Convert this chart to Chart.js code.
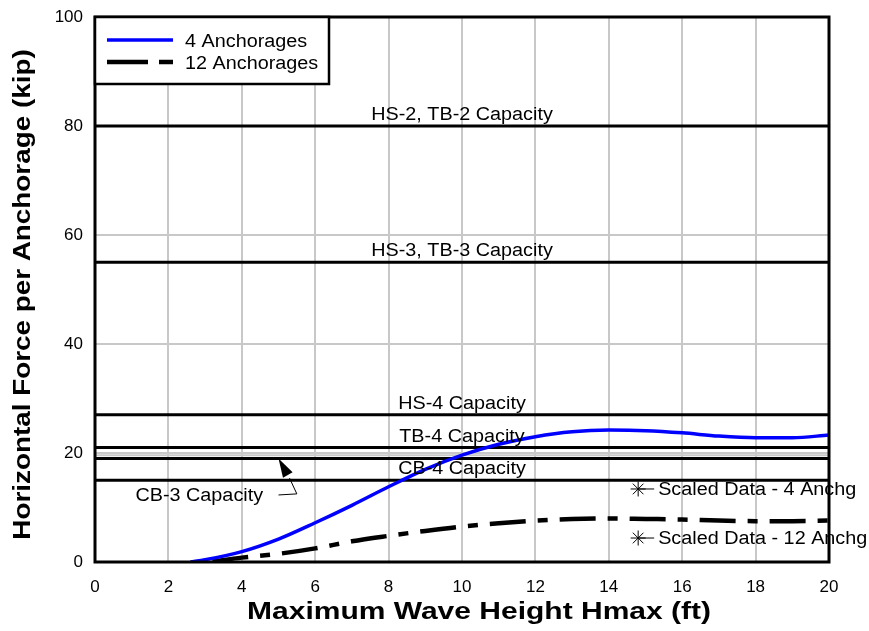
<!DOCTYPE html>
<html><head><meta charset="utf-8">
<script src="https://cdn.jsdelivr.net/npm/chart.js@4.4.1/dist/chart.umd.min.js"></script>
<style>html,body{margin:0;padding:0;background:#fff;}#wrap{width:869px;height:631px;}</style>
</head><body><div id="wrap"><canvas id="c" width="869" height="631"></canvas></div>
<script>
// ---- data ----
const fourX = [2.6,3,4,5,6,7,8,9,10,11,12,13,14,15,16,17,18,19,20];
const fourY = [0,0.4,1.9,4.2,7.2,10.4,13.8,17,19.6,21.6,23,23.9,24.2,24.1,23.7,23.1,22.8,22.8,23.3];
const twelveX = [3.2,4,5,6,7,8,9,10,11,12,13,14,15,16,17,18,19,20];
const twelveY = [0.1,0.8,1.5,2.5,3.8,4.8,5.7,6.5,7.1,7.6,7.9,8.0,7.9,7.8,7.6,7.5,7.5,7.6];
const seriesLabels = ["4 Anchorages","12 Anchorages"];
const capacityValues = [80,55,27,21,19,15];
const capacityLabels = ["HS-2, TB-2 Capacity","HS-3, TB-3 Capacity","HS-4 Capacity","TB-4 Capacity","","CB-4 Capacity"];
const grayLineValues = [19.6];
const scaledMarkX = [14.8,14.8];
const scaledMarkY = [13.4,4.4];
const scaledLabels = ["Scaled Data - 4 Anchg","Scaled Data - 12 Anchg"];
const cb3Label = "CB-3 Capacity";
const xTicks = [0,2,4,6,8,10,12,14,16,18,20];
const yTicks = [0,20,40,60,80,100];
const xTitle = "Maximum Wave Height Hmax (ft)";
const yTitle = "Horizontal Force per Anchorage (kip)";

const FONT = "'Liberation Sans', Arial, Helvetica, sans-serif";
const toPts = (xs, ys) => xs.map((x,i)=>({x:x,y:ys[i]}));

const datasets = [];
capacityValues.forEach(v => datasets.push({type:'line', data:[{x:0,y:v},{x:20,y:v}], borderColor:'#000', borderWidth:3, pointRadius:0, order:5}));
grayLineValues.forEach(v => datasets.push({type:'line', data:[{x:0,y:v},{x:20,y:v}], borderColor:'#c8c8c8', borderWidth:2, pointRadius:0, order:6}));
datasets.push({type:'line', label:seriesLabels[1], data:toPts(twelveX,twelveY), borderColor:'#000', borderWidth:4.5, borderDash:[36,12,10,12], pointRadius:0, cubicInterpolationMode:'monotone', order:2});
datasets.push({type:'line', label:seriesLabels[0], data:toPts(fourX,fourY), borderColor:'#0000ff', borderWidth:3.5, pointRadius:0, cubicInterpolationMode:'monotone', order:1});
datasets.push({type:'scatter', data:toPts(scaledMarkX,scaledMarkY), pointStyle:'star', pointRadius:7.5, borderColor:'#000', borderWidth:1, backgroundColor:'#000', order:0});

function sText(ctx, t, x, y, sx, rot){
  ctx.save(); ctx.translate(x,y); if(rot) ctx.rotate(rot); ctx.scale(sx,1); ctx.fillText(t,0,0); ctx.restore();
}

const deco = {
  id:'deco',
  afterDatasetsDraw(chart){
    const ctx = chart.ctx, xs = chart.scales.x, ys = chart.scales.y, a = chart.chartArea;
    ctx.save();
    ctx.fillStyle = '#000';
    ctx.font = '18px ' + FONT;
    const SX = 1.1;
    // capacity labels
    ctx.textAlign = 'center'; ctx.textBaseline = 'bottom';
    capacityValues.forEach((v,i)=>{ if(capacityLabels[i]) sText(ctx, capacityLabels[i], xs.getPixelForValue(10), ys.getPixelForValue(v)-2, SX); });
    // CB-3 label and arrow
    ctx.textAlign = 'right'; ctx.textBaseline = 'middle';
    sText(ctx, cb3Label, xs.getPixelForValue(4.58), ys.getPixelForValue(12.1), SX);
    const P = (x,y)=>[xs.getPixelForValue(x), ys.getPixelForValue(y)];
    const l1 = P(5.0,12.3), l2 = P(5.5,12.5), l3 = P(5.3,15.4), tip = P(5.0,19.0);
    ctx.strokeStyle = '#000'; ctx.lineWidth = 1;
    ctx.beginPath(); ctx.moveTo(l1[0],l1[1]); ctx.lineTo(l2[0],l2[1]); ctx.lineTo(l3[0],l3[1]); ctx.stroke();
    const dx = tip[0]-l3[0], dy = tip[1]-l3[1], L = Math.hypot(dx,dy), ux = dx/L, uy = dy/L;
    const bx = tip[0]-ux*19, by = tip[1]-uy*19;
    ctx.beginPath(); ctx.moveTo(tip[0],tip[1]); ctx.lineTo(bx-uy*5.5, by+ux*5.5); ctx.lineTo(bx+uy*5.5, by-ux*5.5); ctx.closePath(); ctx.fill();
    // scaled data annotations
    ctx.textAlign = 'left';
    scaledLabels.forEach((t,i)=>{
      const px = xs.getPixelForValue(scaledMarkX[i]), py = ys.getPixelForValue(scaledMarkY[i]);
      ctx.beginPath(); ctx.moveTo(px,py); ctx.lineTo(px+16,py); ctx.stroke();
      sText(ctx, t, px+20, py+1, SX);
    });
    // frame
    ctx.lineWidth = 3; ctx.strokeStyle = '#000';
    ctx.strokeRect(a.left, a.top, a.right-a.left, a.bottom-a.top);
    // legend
    const lx = a.left, ly = a.top, lw = 234, lh = 67;
    ctx.fillStyle = '#fff'; ctx.fillRect(lx, ly, lw, lh);
    ctx.lineWidth = 2.5; ctx.strokeRect(lx, ly, lw, lh);
    ctx.fillStyle = '#000';
    ctx.beginPath(); ctx.strokeStyle = '#0000ff'; ctx.lineWidth = 3.5; ctx.moveTo(lx+12, ly+23); ctx.lineTo(lx+78, ly+23); ctx.stroke();
    ctx.beginPath(); ctx.strokeStyle = '#000'; ctx.lineWidth = 4.5; ctx.setLineDash([41,11,14,100]); ctx.moveTo(lx+12, ly+45); ctx.lineTo(lx+78, ly+45); ctx.stroke();
    ctx.setLineDash([]);
    ctx.textBaseline = 'middle';
    sText(ctx, seriesLabels[0], lx+90, ly+25, SX);
    sText(ctx, seriesLabels[1], lx+90, ly+47, SX);
    // axis titles
    ctx.font = 'bold 24px ' + FONT;
    ctx.textAlign = 'center'; ctx.textBaseline = 'middle';
    sText(ctx, xTitle, (a.left+a.right)/2 + 17, 612, 1.25);
    sText(ctx, yTitle, 23, (a.top+a.bottom)/2 + 5, 1.16, -Math.PI/2);
    ctx.restore();
  }
};

new Chart(document.getElementById('c'), {
  data:{datasets:datasets},
  options:{
    responsive:false, animation:false, devicePixelRatio:1,
    layout:{padding:{top:17,right:40,left:0,bottom:0}},
    plugins:{legend:{display:false}, tooltip:{enabled:false}},
    scales:{
      x:{type:'linear', min:0, max:20,
        afterFit(s){ s.height = 69; s.paddingLeft = 0; s.paddingRight = 0; },
        afterBuildTicks(s){ s.ticks = xTicks.map(v=>({value:v})); },
        ticks:{font:{family:FONT,size:17}, color:'#000', padding:15, maxRotation:0, autoSkip:false},
        grid:{color:'#c8c8c8', lineWidth:2, drawTicks:false},
        border:{display:false}
      },
      y:{type:'linear', min:0, max:100,
        afterFit(s){ s.width = 95; s.paddingTop = 0; s.paddingBottom = 0; },
        afterBuildTicks(s){ s.ticks = yTicks.map(v=>({value:v})); },
        ticks:{font:{family:FONT,size:17}, color:'#000', padding:12},
        grid:{color:'#c8c8c8', lineWidth:2, drawTicks:false},
        border:{display:false}
      }
    }
  },
  plugins:[deco]
});
</script></body></html>
